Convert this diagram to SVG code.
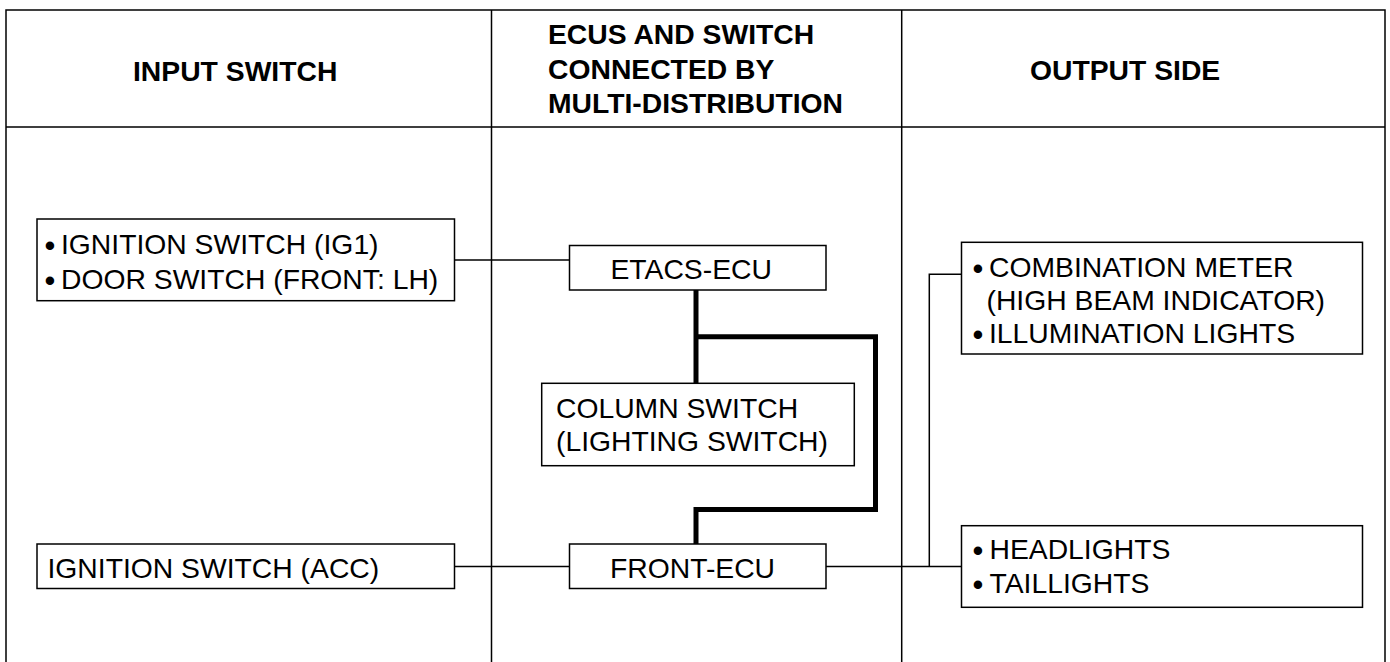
<svg xmlns="http://www.w3.org/2000/svg" width="1390" height="662" viewBox="0 0 1390 662">
<style>
.frame{fill:none;stroke:#000;stroke-width:1.5}
.box{fill:#fff;stroke:#000;stroke-width:1.5}
.wire{fill:none;stroke:#000;stroke-width:1.5}
.bus{fill:none;stroke:#000;stroke-width:5;stroke-linejoin:miter}
.t{font-family:"Liberation Sans",Arial,sans-serif;font-size:28.3px;fill:#000}
.bl{font-size:31px}
.h{font-family:"Liberation Sans",Arial,sans-serif;font-size:28.3px;font-weight:bold;fill:#000}
</style>
<rect width="1390" height="662" fill="#fff"/>
<g id="frame">
<path class="frame" d="M6,662 V10 H1385 V662 M6,127 H1385 M491.5,10 V662 M901.7,10 V662"/>
<text class="h" x="133" y="81">INPUT SWITCH</text>
<text class="h" x="548" y="44">ECUS AND SWITCH</text>
<text class="h" x="548" y="79">CONNECTED BY</text>
<text class="h" x="548" y="113">MULTI-DISTRIBUTION</text>
<text class="h" x="1030" y="80">OUTPUT SIDE</text>
</g>
<g id="connectors">
<path class="wire" d="M454.5,260 H569.5"/>
<path class="wire" d="M454.5,566.5 H569.5"/>
<path class="wire" d="M826,566.5 H961.5 M929.3,566.5 V274.3 H961.5"/>
<path class="bus" d="M696,290 V383.3"/>
<path class="bus" d="M696,336.7 H875.5 V509.5 H696 V544"/>
</g>
<g id="input1">
<rect class="box" x="37" y="219" width="417.5" height="81.7"/>
<text class="t" y="254.3"><tspan class="bl" x="44.5" dy="2">•</tspan><tspan x="61" dy="-2">IGNITION SWITCH (IG1)</tspan></text>
<text class="t" y="289"><tspan class="bl" x="44.5" dy="2">•</tspan><tspan x="61" dy="-2">DOOR SWITCH (FRONT: LH)</tspan></text>
</g>
<g id="input2">
<rect class="box" x="37" y="544" width="417.5" height="44.5"/>
<text class="t" x="47.5" y="577.5">IGNITION SWITCH (ACC)</text>
</g>
<g id="etacs">
<rect class="box" x="569.5" y="245.5" width="256.5" height="44.5"/>
<text class="t" x="610.5" y="279.3">ETACS-ECU</text>
</g>
<g id="column">
<rect class="box" x="541.7" y="383.3" width="312.6" height="82.4"/>
<text class="t" x="556" y="417.7">COLUMN SWITCH</text>
<text class="t" x="556" y="450.7">(LIGHTING SWITCH)</text>
</g>
<g id="front">
<rect class="box" x="569.5" y="544" width="256.5" height="44.5"/>
<text class="t" x="610" y="577.7">FRONT-ECU</text>
</g>
<g id="output1">
<rect class="box" x="961.5" y="242.3" width="401" height="111.7"/>
<text class="t" y="276.7"><tspan class="bl" x="972.5" dy="2">•</tspan><tspan x="989" dy="-2">COMBINATION METER</tspan></text>
<text class="t" x="986.5" y="310">(HIGH BEAM INDICATOR)</text>
<text class="t" y="343.3"><tspan class="bl" x="972.5" dy="2">•</tspan><tspan x="989" dy="-2">ILLUMINATION LIGHTS</tspan></text>
</g>
<g id="output2">
<rect class="box" x="961.5" y="525.7" width="401" height="81.6"/>
<text class="t" y="559.3"><tspan class="bl" x="972.5" dy="2">•</tspan><tspan x="989.5" dy="-2">HEADLIGHTS</tspan></text>
<text class="t" y="593.3"><tspan class="bl" x="972.5" dy="2">•</tspan><tspan x="989.5" dy="-2">TAILLIGHTS</tspan></text>
</g>
</svg>
